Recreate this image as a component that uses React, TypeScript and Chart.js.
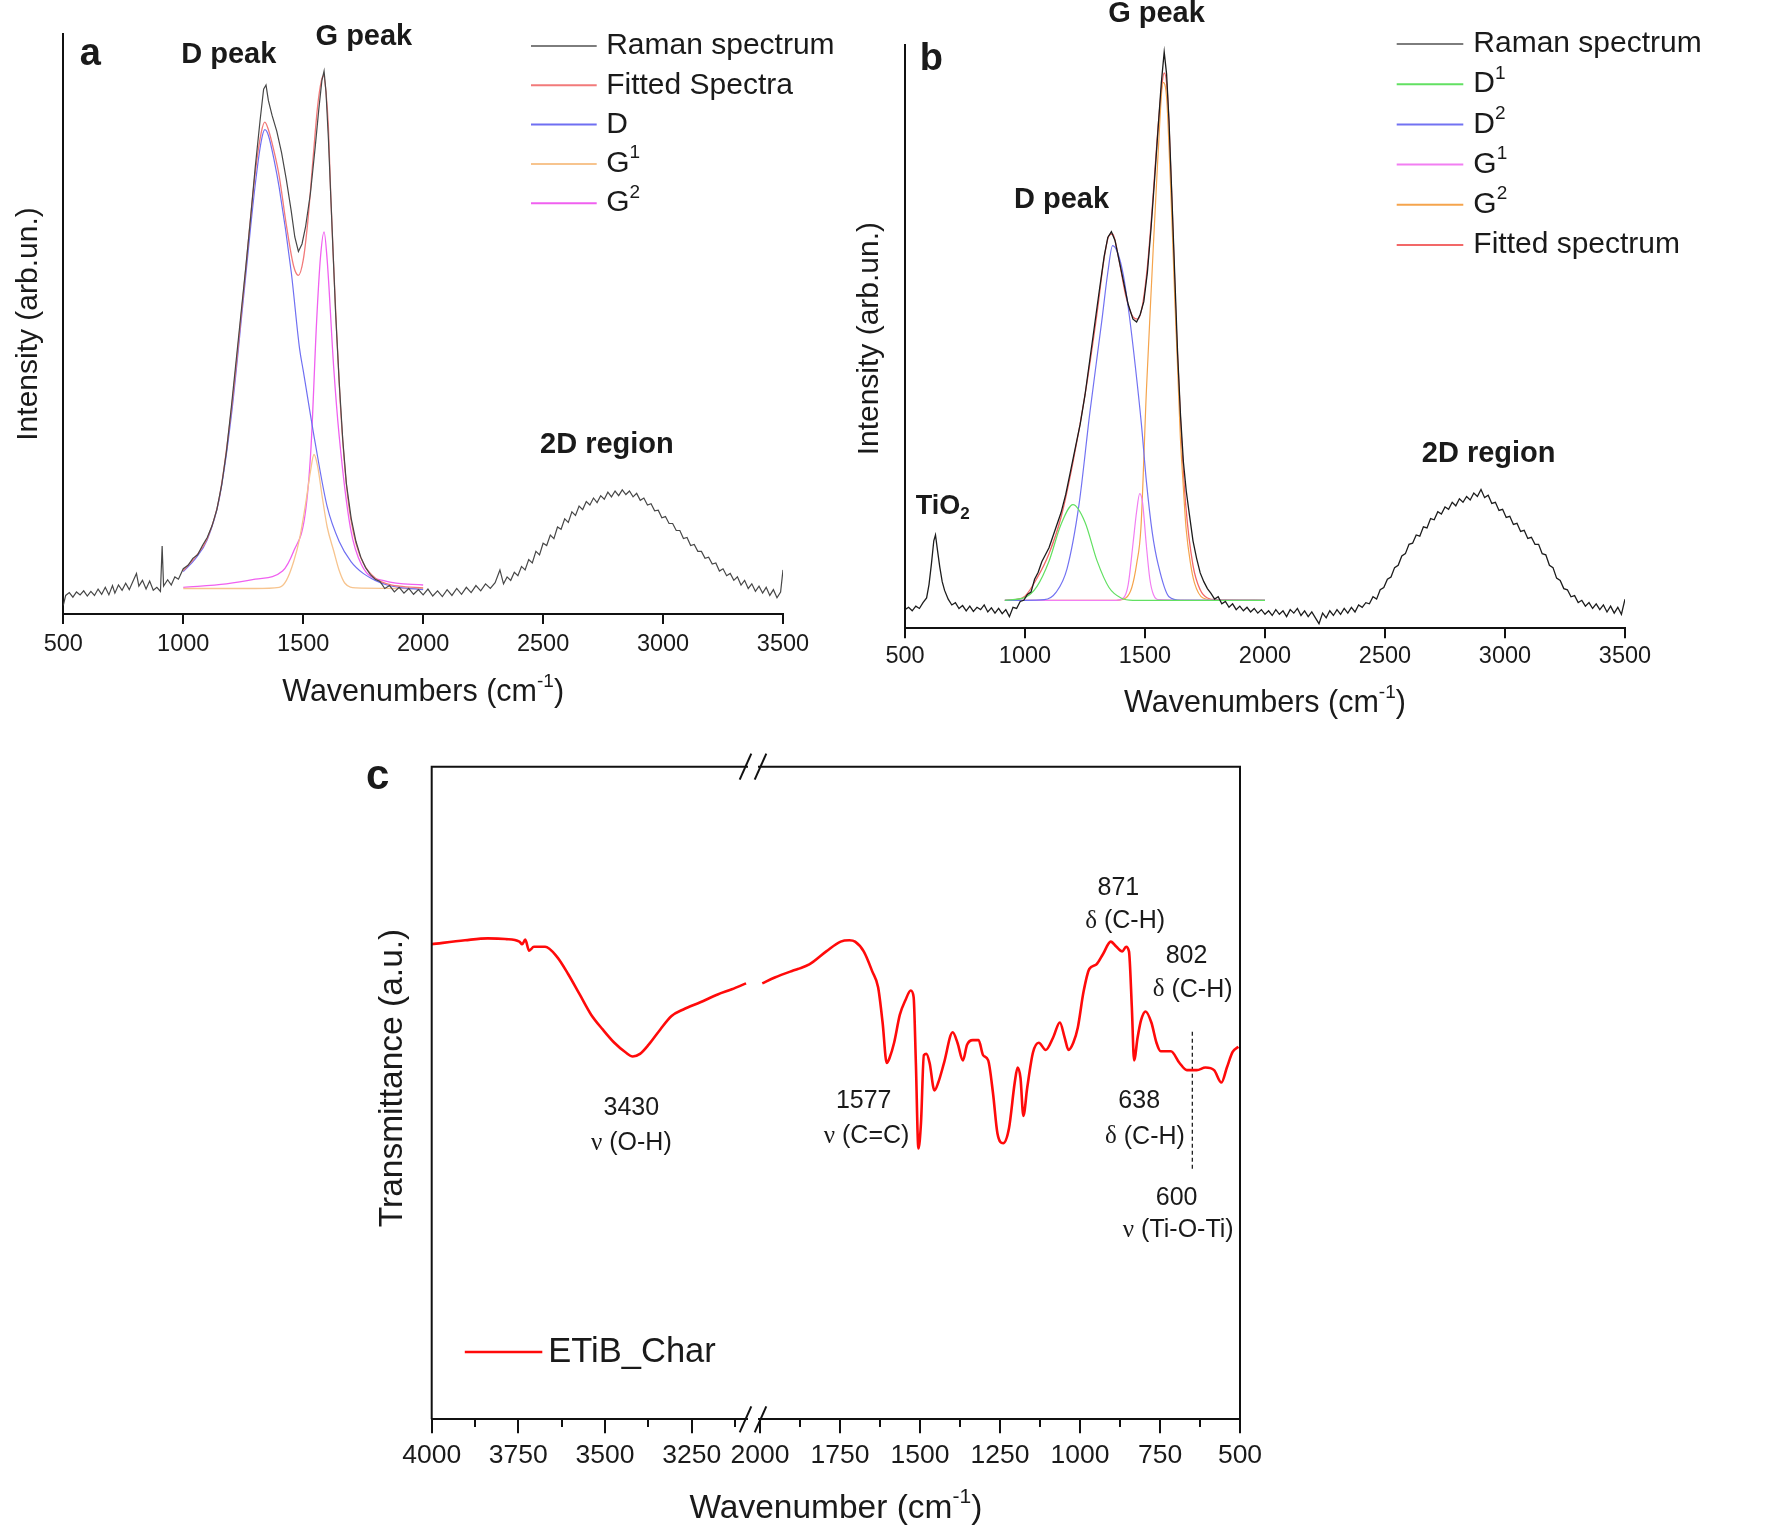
import React, { useEffect, useRef } from "react";
import { Chart, registerables } from "chart.js";

Chart.register(...registerables);

const SANS = '"Liberation Sans", Arial, Helvetica, sans-serif';
const SERIF = '"Liberation Serif", "Times New Roman", serif';
const INK = "#1a1a1a";
const AXIS = "#111111";

// ---------------- Panel a (Raman) ----------------
const ramanA_wn = [
  500, 510, 525, 540, 555, 570, 585, 600, 615, 630,
  645, 660, 675, 690, 705, 715, 730, 745, 760, 775,
  790, 805, 815, 830, 845, 860, 875, 890, 905, 912,
  918, 935, 950, 965, 980, 1000, 1020, 1040, 1060, 1080,
  1100, 1120, 1140, 1160, 1180, 1200, 1220, 1240, 1260, 1280,
  1300, 1320, 1335, 1345, 1355, 1370, 1390, 1410, 1430, 1450,
  1465, 1480, 1495, 1510, 1530, 1550, 1565, 1578, 1587, 1595,
  1605, 1615, 1625, 1635, 1650, 1665, 1680, 1700, 1720, 1740,
  1760, 1780, 1800, 1820, 1840, 1860, 1880, 1900, 1920, 1940,
  1960, 1980, 2000, 2020, 2040, 2060, 2080, 2100, 2120, 2140,
  2160, 2180, 2200, 2220, 2240, 2260, 2280, 2300, 2320, 2335,
  2350, 2365, 2380, 2395, 2410, 2425, 2440, 2455, 2470, 2485,
  2500, 2515, 2530, 2545, 2560, 2575, 2590, 2605, 2620, 2635,
  2650, 2665, 2680, 2695, 2710, 2725, 2740, 2755, 2770, 2785,
  2800, 2815, 2830, 2845, 2860, 2875, 2890, 2905, 2920, 2935,
  2950, 2965, 2980, 2995, 3010, 3025, 3040, 3055, 3070, 3085,
  3100, 3115, 3130, 3145, 3160, 3175, 3190, 3205, 3220, 3235,
  3250, 3265, 3280, 3295, 3310, 3325, 3340, 3355, 3370, 3385,
  3400, 3415, 3430, 3445, 3460, 3475, 3490, 3500,
];
const ramanA_int = [
  1.5, 3.2, 3.7, 2.9, 3.8, 3.3, 4.0, 3.1, 3.9, 3.2,
  4.3, 3.4, 4.6, 3.3, 4.9, 3.6, 5.0, 4.1, 5.3, 4.2,
  5.6, 7.0, 4.8, 5.8, 4.3, 5.7, 4.1, 4.6, 3.9, 11.7,
  4.8, 5.9, 5.0, 6.4, 6.0, 7.8, 8.4, 9.6, 10.2, 11.8,
  13.2, 15.2, 18.0, 22.2, 28.0, 35.5, 43.5, 51.5, 59.5, 68.0,
  77.0, 85.0, 90.5, 91.2, 88.5, 86.0, 83.2, 79.5, 74.8, 69.5,
  65.0, 62.5, 63.8, 66.8, 72.5, 80.5, 87.0, 92.0, 93.6, 90.0,
  82.0, 72.0, 62.0, 52.0, 40.0, 30.0, 22.5, 16.5, 12.5, 9.8,
  8.0, 6.8, 6.0, 5.6, 4.4, 4.9, 3.8, 4.6, 3.6, 4.4,
  3.4, 4.2, 3.3, 4.3, 3.1, 4.0, 3.0, 4.2, 3.2, 4.4,
  3.4, 4.6, 3.7, 4.9, 4.0, 5.2, 4.4, 5.4, 7.6, 5.2,
  6.4, 5.8, 7.2, 6.6, 8.2, 7.6, 9.4, 8.8, 10.8, 10.2,
  12.2, 11.8, 13.6, 13.0, 15.0, 14.6, 16.4, 15.8, 17.6, 17.0,
  18.6, 18.0, 19.4, 18.8, 20.0, 19.2, 20.4, 19.8, 21.0, 20.2,
  21.2, 20.4, 21.4, 20.6, 21.2, 20.2, 20.8, 19.6, 20.0, 18.8,
  19.0, 17.8, 17.9, 16.6, 16.8, 15.6, 15.6, 14.4, 14.4, 13.0,
  13.2, 11.8, 12.0, 10.8, 10.8, 9.6, 9.8, 8.6, 8.8, 7.4,
  7.8, 6.6, 7.0, 5.8, 6.4, 5.0, 5.8, 4.4, 5.2, 3.9,
  4.8, 3.6, 4.6, 3.2, 4.2, 2.8, 3.8, 7.6,
];
const fitA_wn = [1000, 1050, 1100, 1150, 1200, 1250, 1300, 1325, 1340, 1355, 1380, 1400, 1430, 1460, 1480, 1500, 1520, 1540, 1560, 1575, 1585, 1595, 1605, 1615, 1627, 1640, 1655, 1670, 1686, 1700, 1721, 1750, 1800, 1850, 1900, 2000];
const fitA_int = [7.5, 9.8, 13.0, 20.0, 35.0, 55.0, 76.0, 83.0, 84.8, 83.5, 79.5, 75.5, 67.0, 60.0, 58.4, 61.0, 68.0, 78.0, 87.5, 91.8, 92.8, 90.0, 84.0, 72.0, 60.0, 48.0, 36.0, 27.0, 20.0, 16.0, 12.0, 8.8, 6.2, 5.2, 4.8, 4.5];
const dA_wn = [1000, 1050, 1100, 1150, 1200, 1250, 1300, 1325, 1340, 1355, 1380, 1400, 1450, 1485, 1500, 1550, 1600, 1650, 1700, 1750, 1800, 1850, 1900, 2000];
const dA_int = [7.3, 9.5, 12.8, 19.8, 34.0, 54.0, 74.0, 81.5, 83.5, 82.5, 78.0, 73.5, 59.0, 45.7, 42.0, 29.5, 18.5, 12.5, 9.0, 7.0, 5.8, 5.0, 4.6, 4.2];
const g1A_wn = [1000, 1300, 1400, 1430, 1460, 1485, 1510, 1530, 1545, 1560, 1580, 1600, 1627, 1650, 1674, 1720, 2000];
const g1A_int = [4.4, 4.4, 4.6, 5.8, 9.0, 13.0, 19.0, 24.5, 27.5, 25.5, 20.0, 15.0, 10.9, 7.5, 5.3, 4.5, 4.4];
const g2A_wn = [1000, 1180, 1300, 1414, 1461, 1508, 1532, 1556, 1572, 1587, 1600, 1627, 1650, 1697, 1744, 1840, 2000];
const g2A_int = [4.6, 5.2, 6.0, 7.4, 10.9, 17.2, 28.3, 50.5, 61.5, 65.9, 61.0, 42.6, 30.7, 14.8, 8.4, 5.7, 5.0];

// ---------------- Panel b (Raman) ----------------
const ramanB_wn = [
  500, 515, 530, 545, 560, 575, 590, 600, 610, 620,
  627, 635, 645, 655, 665, 680, 695, 710, 725, 740,
  755, 770, 785, 800, 815, 830, 845, 860, 875, 890,
  905, 920, 935, 950, 965, 980, 995, 1010, 1025, 1040,
  1055, 1070, 1085, 1100, 1115, 1130, 1150, 1170, 1190, 1210,
  1230, 1250, 1270, 1290, 1310, 1330, 1345, 1360, 1375, 1390,
  1410, 1430, 1450, 1465, 1480, 1495, 1510, 1525, 1540, 1555,
  1568, 1580, 1590, 1600, 1612, 1624, 1636, 1648, 1660, 1672,
  1685, 1700, 1715, 1730, 1745, 1760, 1775, 1790, 1805, 1820,
  1835, 1850, 1865, 1880, 1895, 1910, 1925, 1940, 1955, 1970,
  1985, 2000, 2015, 2030, 2045, 2060, 2075, 2090, 2105, 2120,
  2135, 2150, 2165, 2180, 2195, 2210, 2225, 2240, 2255, 2270,
  2285, 2300, 2315, 2330, 2345, 2360, 2375, 2390, 2405, 2420,
  2435, 2450, 2465, 2480, 2495, 2510, 2525, 2540, 2555, 2570,
  2585, 2600, 2615, 2630, 2645, 2660, 2675, 2690, 2705, 2720,
  2735, 2750, 2765, 2780, 2795, 2810, 2825, 2840, 2855, 2870,
  2885, 2900, 2915, 2930, 2945, 2960, 2975, 2990, 3005, 3020,
  3035, 3050, 3065, 3080, 3095, 3110, 3125, 3140, 3155, 3170,
  3185, 3200, 3215, 3230, 3245, 3260, 3275, 3290, 3305, 3320,
  3335, 3350, 3365, 3380, 3395, 3410, 3425, 3440, 3455, 3470,
  3485, 3500,
];
const ramanB_int = [
  3.2, 3.6, 3.0, 3.8, 3.4, 4.4, 5.2, 7.5, 11.0, 15.0,
  16.0, 13.5, 10.5, 8.0, 6.5, 5.0, 4.0, 4.4, 3.4, 3.9,
  3.0, 3.8, 2.9, 3.6, 3.2, 4.0, 2.8, 3.5, 2.6, 3.4,
  2.5, 3.2, 2.0, 3.6, 3.4, 4.6, 4.8, 5.8, 6.2, 8.4,
  9.6, 11.4, 12.6, 13.8, 15.6, 17.4, 19.8, 23.0, 27.0, 31.0,
  35.0, 40.0, 46.0, 52.0, 58.0, 63.8, 67.0, 68.0, 66.5, 63.5,
  59.5, 55.5, 53.0, 52.5, 53.8, 56.0, 61.0, 68.5, 77.0, 86.0,
  93.5, 98.8, 95.0, 87.0, 74.0, 60.5, 47.0, 36.5, 28.5, 23.5,
  19.5, 15.0, 12.0, 9.5, 8.0, 6.8, 6.0, 5.0, 5.4, 4.2,
  4.6, 3.6, 4.2, 3.2, 3.8, 3.0, 3.6, 2.8, 3.4, 2.6,
  3.2, 2.4, 3.0, 2.2, 3.2, 2.4, 3.0, 2.0, 3.2, 2.6,
  3.4, 2.2, 3.0, 2.0, 2.8, 1.8, 0.8, 2.6, 1.8, 3.0,
  2.2, 3.2, 2.4, 3.4, 2.6, 3.6, 2.8, 4.0, 3.6, 4.4,
  4.2, 5.4, 5.0, 6.6, 7.0, 8.4, 8.8, 10.4, 10.8, 12.4,
  12.8, 14.4, 14.6, 16.0, 15.8, 17.4, 17.2, 18.8, 18.6, 20.0,
  19.6, 20.8, 20.4, 21.6, 21.0, 22.2, 21.6, 22.6, 22.0, 23.2,
  22.6, 23.8, 22.4, 22.8, 21.4, 21.6, 20.2, 20.4, 19.0, 19.2,
  17.8, 18.0, 16.6, 16.8, 15.4, 15.6, 14.4, 14.4, 12.8, 12.6,
  10.8, 10.4, 8.6, 8.2, 6.8, 6.6, 5.4, 5.6, 4.4, 4.8,
  3.8, 4.4, 3.4, 4.2, 3.2, 4.0, 2.8, 3.8, 2.6, 3.6,
  2.4, 5.0,
];
const d1B_wn = [916, 1000, 1050, 1100, 1150, 1200, 1250, 1300, 1350, 1400, 1450, 2000];
const d1B_int = [4.8, 5.3, 7.2, 11.5, 17.8, 21.2, 18.2, 11.6, 7.0, 5.2, 4.8, 4.8];
const d2B_wn = [916, 1000, 1080, 1130, 1175, 1225, 1270, 1320, 1345, 1365, 1385, 1410, 1435, 1460, 1485, 1506, 1530, 1555, 1600, 1650, 2000];
const d2B_int = [4.8, 4.8, 4.9, 6.2, 10.2, 21.2, 36.9, 52.7, 61.0, 65.6, 64.5, 60.5, 53.5, 44.8, 35.0, 25.1, 16.5, 10.9, 5.4, 4.8, 4.8];
const g1B_wn = [916, 1380, 1410, 1430, 1450, 1465, 1478, 1490, 1505, 1520, 1535, 1560, 2000];
const g1B_int = [4.8, 4.8, 5.2, 7.5, 14.5, 20.0, 23.1, 21.5, 14.5, 8.5, 5.8, 4.9, 4.8];
const g2B_wn = [916, 1380, 1420, 1445, 1465, 1483, 1506, 1529, 1553, 1576, 1590, 1600, 1612, 1624, 1636, 1647, 1660, 1671, 1690, 1706, 1742, 1800, 2000];
const g2B_int = [4.8, 4.8, 5.2, 7.0, 11.0, 17.2, 40.9, 60.6, 80.2, 93.6, 91.0, 82.6, 70.0, 56.6, 44.5, 33.0, 24.0, 17.2, 11.0, 7.8, 5.2, 4.8, 4.8];
const fitB_wn = [916, 960, 1000, 1050, 1100, 1150, 1200, 1250, 1300, 1330, 1350, 1365, 1390, 1420, 1450, 1470, 1490, 1510, 1530, 1550, 1570, 1580, 1590, 1600, 1615, 1630, 1650, 1670, 1700, 1730, 1760, 1800, 2000];
const fitB_int = [4.8, 4.9, 5.5, 8.6, 12.8, 19.0, 28.5, 40.0, 54.0, 63.5, 67.3, 67.6, 63.5, 57.0, 53.4, 53.0, 55.5, 62.0, 72.0, 83.5, 93.0, 95.2, 93.5, 86.5, 70.0, 52.0, 34.0, 21.0, 10.8, 6.6, 5.2, 4.9, 4.8];

const RAMAN_TICKS = [500, 1000, 1500, 2000, 2500, 3000, 3500];

// ---------------- Panel c (FTIR) ----------------
const ftirHigh_wn = [4000, 3904, 3838, 3788, 3747, 3739, 3730, 3719, 3705, 3673, 3639, 3606, 3573, 3540, 3506, 3473, 3440, 3420, 3399, 3374, 3341, 3308, 3274, 3225, 3175, 3134, 3093];
const ftirHigh_T = [72.8, 73.4, 73.7, 73.6, 73.2, 72.8, 73.5, 71.8, 72.4, 72.4, 70.9, 68.2, 65.1, 62.0, 59.7, 57.7, 56.2, 55.6, 56.0, 57.4, 59.7, 61.8, 62.8, 63.9, 65.1, 65.9, 66.8];
const ftirLow_wn = [
  1993, 1954, 1900, 1882, 1846, 1793, 1748, 1721, 1703, 1676,
  1649, 1631, 1617, 1604, 1595, 1581, 1563, 1545, 1529, 1520,
  1513, 1505, 1497, 1488, 1480, 1470, 1455, 1443, 1425, 1398,
  1383, 1366, 1353, 1335, 1317, 1303, 1287, 1272, 1258, 1240,
  1222, 1204, 1195, 1186, 1177, 1165, 1147, 1129, 1107, 1084,
  1063, 1048, 1036, 1021, 1007, 989, 971, 949, 928, 904,
  886, 868, 856, 847, 838, 831, 820, 809, 795, 777,
  761, 748, 716, 689, 666, 635, 608, 581, 558, 541,
  523, 505,
];
const ftirLow_T = [
  66.8, 67.7, 68.7, 69.0, 69.7, 71.7, 73.2, 73.4, 73.2, 71.7,
  68.6, 66.2, 60.8, 54.6, 55.4, 57.7, 62.0, 64.3, 65.7, 64.7,
  54.6, 41.5, 45.4, 55.8, 56.0, 54.6, 50.4, 51.6, 54.6, 59.3,
  57.7, 55.0, 57.4, 58.1, 58.1, 55.8, 55.0, 50.0, 43.8, 42.3,
  44.6, 51.6, 53.9, 52.3, 46.5, 50.8, 56.2, 57.7, 56.6, 58.5,
  60.8, 58.5, 56.6, 57.7, 60.0, 65.5, 69.0, 69.7, 71.3, 73.2,
  72.4, 71.7, 72.4, 71.7, 63.1, 55.0, 58.5, 61.2, 62.5, 60.8,
  57.7, 56.4, 56.4, 54.6, 53.5, 53.5, 53.9, 53.5, 51.6, 53.9,
  56.3, 57.1,
];
const marker_wn = [649, 649];
const marker_T = [59.4, 38.0];

const C_HIGH_RANGE = [3073, 4000];
const C_LOW_RANGE = [500, 2022];
const C_HIGH_MAJOR = [4000, 3750, 3500, 3250];
const C_HIGH_MINOR = [3875, 3625, 3375, 3125];
const C_LOW_MAJOR = [2000, 1750, 1500, 1250, 1000, 750, 500];
const C_LOW_MINOR = [1875, 1625, 1375, 1125, 875, 625];

// ---------------- helpers ----------------
type Part = { t: string; sup?: boolean; sub?: boolean; serif?: boolean };
type Label = { parts: Part[]; x: number; y: number; axis?: string; size: number; bold?: boolean };
type LegendItem = { ds: number; parts: Part[]; color?: string };
type Decor = {
  labels: Label[];
  legend?: { dx: number; dy: number; lineLen: number; gap: number; spacing: number; size: number; lineWidth: number; items: LegendItem[] };
  xTitle: { parts: Part[]; dy: number; size: number };
  yTitle: { parts: Part[]; dx: number; dy: number; size: number };
  frameBreak?: { left: string; right: string };
};

const pts = (xs: number[], ys: number[]) => xs.map((x, i) => ({ x, y: ys[i] }));

function drawParts(ctx: CanvasRenderingContext2D, parts: Part[], x: number, y: number, size: number, bold: boolean, align: "center" | "left") {
  const fontOf = (p: Part) =>
    `${bold ? "bold " : ""}${p.sup || p.sub ? Math.round(size * 0.62) : size}px ${p.serif ? SERIF : SANS}`;
  const widths = parts.map((p) => {
    ctx.font = fontOf(p);
    return ctx.measureText(p.t).width;
  });
  const total = widths.reduce((s, w) => s + w, 0);
  let cx = align === "center" ? x - total / 2 : x;
  ctx.textAlign = "left";
  ctx.textBaseline = "middle";
  ctx.fillStyle = INK;
  parts.forEach((p, i) => {
    ctx.font = fontOf(p);
    const dy = p.sup ? -size * 0.36 : p.sub ? size * 0.28 : 0;
    ctx.fillText(p.t, cx, y + dy);
    cx += widths[i];
  });
}

function decorPlugin(d: Decor) {
  return {
    id: "decor",
    afterDraw(chart: any) {
      const ctx: CanvasRenderingContext2D = chart.ctx;
      const a = chart.chartArea;
      ctx.save();
      if (d.frameBreak) {
        ctx.strokeStyle = AXIS;
        ctx.lineWidth = 2;
        ctx.beginPath();
        ctx.moveTo(a.left, a.bottom);
        ctx.lineTo(a.left, a.top);
        ctx.lineTo(a.right, a.top);
        ctx.lineTo(a.right, a.bottom);
        ctx.stroke();
        const bx = chart.scales[d.frameBreak.left].right;
        [a.top, a.bottom].forEach((yy: number) => {
          ctx.fillStyle = "#ffffff";
          ctx.fillRect(bx - 5, yy - 3, 10, 6);
          ctx.strokeStyle = AXIS;
          ctx.lineWidth = 2;
          [bx - 7.5, bx + 7.5].forEach((sx) => {
            ctx.beginPath();
            ctx.moveTo(sx - 5.8, yy + 13);
            ctx.lineTo(sx + 5.8, yy - 13);
            ctx.stroke();
          });
        });
      }
      d.labels.forEach((l) => {
        const xs = chart.scales[l.axis || "x"];
        const ys = chart.scales.y;
        drawParts(ctx, l.parts, xs.getPixelForValue(l.x), ys.getPixelForValue(l.y), l.size, !!l.bold, "center");
      });
      if (d.legend) {
        const L = d.legend;
        L.items.forEach((it, i) => {
          const y = a.top + L.dy + i * L.spacing;
          const x0 = a.left + L.dx;
          ctx.strokeStyle = it.color || chart.data.datasets[it.ds].borderColor;
          ctx.lineWidth = L.lineWidth;
          ctx.beginPath();
          ctx.moveTo(x0, y);
          ctx.lineTo(x0 + L.lineLen, y);
          ctx.stroke();
          drawParts(ctx, it.parts, x0 + L.lineLen + L.gap, y, L.size, false, "left");
        });
      }
      drawParts(ctx, d.xTitle.parts, (a.left + a.right) / 2, a.bottom + d.xTitle.dy, d.xTitle.size, false, "center");
      ctx.save();
      ctx.translate(a.left + d.yTitle.dx, (a.top + a.bottom) / 2 + d.yTitle.dy);
      ctx.rotate(-Math.PI / 2);
      drawParts(ctx, d.yTitle.parts, 0, 0, d.yTitle.size, false, "center");
      ctx.restore();
      ctx.restore();
    },
  };
}

const line = (label: string, xs: number[], ys: number[], color: string, width: number, smooth: boolean) => ({
  label,
  data: pts(xs, ys),
  borderColor: color,
  backgroundColor: color,
  borderWidth: width,
  pointRadius: 0,
  fill: false,
  tension: 0,
  cubicInterpolationMode: smooth ? "monotone" : "default",
});

function ramanOptions(o: { padTop: number; padRight: number; yWidth: number; xHeight: number; tickPad: number }) {
  return {
    responsive: false,
    animation: false,
    devicePixelRatio: 1,
    events: [],
    layout: { padding: { left: 0, top: o.padTop, right: o.padRight, bottom: 0 } },
    plugins: { legend: { display: false }, tooltip: { enabled: false } },
    scales: {
      x: {
        type: "linear",
        axis: "x",
        position: "bottom",
        min: 500,
        max: 3500,
        afterFit: (s: any) => { s.height = o.xHeight; },
        afterBuildTicks: (s: any) => { s.ticks = RAMAN_TICKS.map((v) => ({ value: v })); },
        ticks: {
          autoSkip: false, maxRotation: 0, minRotation: 0, padding: o.tickPad, color: INK,
          font: { family: SANS, size: 23.5 },
          callback: (v: any) => String(v),
        },
        grid: { display: true, drawOnChartArea: false, drawTicks: true, tickLength: 10, color: AXIS, lineWidth: 2 },
        border: { display: true, color: AXIS, width: 2 },
      },
      y: {
        type: "linear",
        axis: "y",
        position: "left",
        min: 0,
        max: 100,
        afterFit: (s: any) => { s.width = o.yWidth; },
        ticks: { display: false },
        grid: { display: false },
        border: { display: true, color: AXIS, width: 2 },
      },
    },
  };
}

const wavenumbersTitle: Part[] = [{ t: "Wavenumbers (cm" }, { t: "-1", sup: true }, { t: ")" }];
const intensityTitle: Part[] = [{ t: "Intensity (arb.un.)" }];

function makeA() {
  return {
    type: "line",
    data: {
      datasets: [
        line("Raman spectrum", ramanA_wn, ramanA_int, "#474747", 1.2, false),
        line("Fitted Spectra", fitA_wn, fitA_int, "#f27a7a", 1.3, true),
        line("D", dA_wn, dA_int, "#6f6ff2", 1.2, true),
        line("G1", g1A_wn, g1A_int, "#f7c48e", 1.3, true),
        line("G2", g2A_wn, g2A_int, "#f060f0", 1.3, true),
      ],
    },
    options: ramanOptions({ padTop: 34, padRight: 57, yWidth: 63.3, xHeight: 116, tickPad: 6 }),
    plugins: [
      decorPlugin({
        labels: [
          { parts: [{ t: "a" }], x: 613, y: 96.4, size: 38, bold: true },
          { parts: [{ t: "D peak" }], x: 1190, y: 96.4, size: 29, bold: true },
          { parts: [{ t: "G peak" }], x: 1753, y: 99.5, size: 29, bold: true },
          { parts: [{ t: "2D region" }], x: 2766, y: 29.1, size: 29, bold: true },
        ],
        legend: {
          dx: 467.7, dy: 12, lineLen: 65.7, gap: 9.5, spacing: 39.3, size: 30, lineWidth: 2,
          items: [
            { ds: 0, parts: [{ t: "Raman spectrum" }], color: "#7d7d7d" },
            { ds: 1, parts: [{ t: "Fitted Spectra" }] },
            { ds: 2, parts: [{ t: "D" }] },
            { ds: 3, parts: [{ t: "G" }, { t: "1", sup: true }] },
            { ds: 4, parts: [{ t: "G" }, { t: "2", sup: true }] },
          ],
        },
        xTitle: { parts: wavenumbersTitle, dy: 79, size: 30.5 },
        yTitle: { parts: intensityTitle, dx: -35, dy: 0, size: 30 },
      }),
    ],
  };
}

function makeB() {
  return {
    type: "line",
    data: {
      datasets: [
        line("Raman spectrum", ramanB_wn, ramanB_int, "#1c1c1c", 1.3, false),
        line("D1", d1B_wn, d1B_int, "#62e062", 1.2, true),
        line("D2", d2B_wn, d2B_int, "#7272f2", 1.2, true),
        line("G1", g1B_wn, g1B_int, "#f27ef2", 1.2, true),
        line("G2", g2B_wn, g2B_int, "#f5a44c", 1.2, true),
        line("Fitted spectrum", fitB_wn, fitB_int, "#f26868", 1.3, true),
      ],
    },
    options: ramanOptions({ padTop: 45, padRight: 148, yWidth: 65, xHeight: 101.7, tickPad: 4 }),
    plugins: [
      decorPlugin({
        labels: [
          { parts: [{ t: "b" }], x: 610, y: 97.5, size: 38, bold: true },
          { parts: [{ t: "G peak" }], x: 1548, y: 105.4, size: 29, bold: true },
          { parts: [{ t: "D peak" }], x: 1152, y: 73.5, size: 29, bold: true },
          { parts: [{ t: "TiO" }, { t: "2", sub: true }], x: 657, y: 20.8, size: 27, bold: true },
          { parts: [{ t: "2D region" }], x: 2932, y: 29.8, size: 29, bold: true },
        ],
        legend: {
          dx: 491.7, dy: -1, lineLen: 66.6, gap: 10, spacing: 40.2, size: 30, lineWidth: 2,
          items: [
            { ds: 0, parts: [{ t: "Raman spectrum" }], color: "#7d7d7d" },
            { ds: 1, parts: [{ t: "D" }, { t: "1", sup: true }] },
            { ds: 2, parts: [{ t: "D" }, { t: "2", sup: true }] },
            { ds: 3, parts: [{ t: "G" }, { t: "1", sup: true }] },
            { ds: 4, parts: [{ t: "G" }, { t: "2", sup: true }] },
            { ds: 5, parts: [{ t: "Fitted spectrum" }] },
          ],
        },
        xTitle: { parts: wavenumbersTitle, dy: 75.7, size: 30.5 },
        yTitle: { parts: intensityTitle, dx: -35, dy: 2, size: 30 },
      }),
    ],
  };
}

function ftirAxis(range: number[], major: number[], minor: number[], weight: number) {
  const all = [...major, ...minor].sort((p, q) => q - p);
  return {
    type: "linear",
    axis: "x",
    position: "bottom",
    stack: "wn",
    stackWeight: weight,
    reverse: true,
    min: range[0],
    max: range[1],
    afterFit: (s: any) => { s.height = 111.7; },
    afterBuildTicks: (s: any) => { s.ticks = all.map((v) => ({ value: v })); },
    ticks: {
      autoSkip: false, maxRotation: 0, minRotation: 0, padding: 6, color: INK,
      font: { family: SANS, size: 26.5 },
      callback: (v: any) => (major.includes(Number(v)) ? String(v) : ""),
    },
    grid: {
      display: true, drawOnChartArea: false, drawTicks: true, tickLength: 14, color: AXIS, lineWidth: 2,
      tickBorderDash: (c: any) => (c.tick && major.includes(c.tick.value) ? [] : [7, 40]),
    },
    border: { display: true, color: AXIS, width: 2 },
  };
}

function makeC() {
  const sym = (g: string, rest: string): Part[] => [{ t: g, serif: true }, { t: rest }];
  return {
    type: "line",
    data: {
      datasets: [
        { ...line("ETiB_Char", ftirHigh_wn, ftirHigh_T, "#ff0a0a", 2.6, true), xAxisID: "xL", yAxisID: "y" },
        { ...line("ETiB_Char (low)", ftirLow_wn, ftirLow_T, "#ff0a0a", 2.6, true), xAxisID: "xR", yAxisID: "y" },
        { ...line("marker", marker_wn, marker_T, "#222222", 1.3, false), borderDash: [4, 3], xAxisID: "xR", yAxisID: "y" },
      ],
    },
    options: {
      responsive: false,
      animation: false,
      devicePixelRatio: 1,
      events: [],
      layout: { padding: { left: 101.7, top: 26.7, right: 90, bottom: 0 } },
      plugins: { legend: { display: false }, tooltip: { enabled: false } },
      scales: {
        xL: ftirAxis(C_HIGH_RANGE, C_HIGH_MAJOR, C_HIGH_MINOR, 321.3),
        xR: ftirAxis(C_LOW_RANGE, C_LOW_MAJOR, C_LOW_MINOR, 487),
        y: { type: "linear", axis: "y", display: false, min: 0, max: 100 },
      },
    },
    plugins: [
      decorPlugin({
        frameBreak: { left: "xL", right: "xR" },
        labels: [
          { parts: [{ t: "c" }], x: 4156, y: 98.3, axis: "xL", size: 42, bold: true },
          { parts: [{ t: "3430" }], x: 3424, y: 47.7, axis: "xL", size: 25 },
          { parts: sym("ν", " (O-H)"), x: 3424, y: 42.3, axis: "xL", size: 25 },
          { parts: [{ t: "1577" }], x: 1676, y: 48.8, axis: "xR", size: 25 },
          { parts: sym("ν", " (C=C)"), x: 1667, y: 43.4, axis: "xR", size: 25 },
          { parts: [{ t: "871" }], x: 880, y: 81.4, axis: "xR", size: 25 },
          { parts: sym("δ", " (C-H)"), x: 859, y: 76.3, axis: "xR", size: 25 },
          { parts: [{ t: "802" }], x: 667, y: 70.9, axis: "xR", size: 25 },
          { parts: sym("δ", " (C-H)"), x: 648, y: 65.8, axis: "xR", size: 25 },
          { parts: [{ t: "638" }], x: 815, y: 48.7, axis: "xR", size: 25 },
          { parts: sym("δ", " (C-H)"), x: 797, y: 43.3, axis: "xR", size: 25 },
          { parts: [{ t: "600" }], x: 698, y: 33.9, axis: "xR", size: 25 },
          { parts: sym("ν", " (Ti-O-Ti)"), x: 693, y: 29.0, axis: "xR", size: 25 },
        ],
        legend: {
          dx: 33.1, dy: 585.3, lineLen: 77.5, gap: 6, spacing: 40, size: 34.5, lineWidth: 2.6,
          items: [{ ds: 0, parts: [{ t: "ETiB_Char" }] }],
        },
        xTitle: { parts: [{ t: "Wavenumber (cm" }, { t: "-1", sup: true }, { t: ")" }], dy: 89.7, size: 33.5 },
        yTitle: { parts: [{ t: "Transmittance (a.u.)" }], dx: -38.7, dy: -15, size: 33.5 },
      }),
    ],
  };
}

function ChartBox(props: { left: number; top: number; width: number; height: number; make: () => any }) {
  const ref = useRef<HTMLCanvasElement | null>(null);
  useEffect(() => {
    if (!ref.current) return;
    const chart = new Chart(ref.current, props.make());
    return () => chart.destroy();
  }, []);
  return (
    <canvas
      ref={ref}
      width={props.width}
      height={props.height}
      style={{ position: "absolute", left: props.left, top: props.top, width: props.width, height: props.height, display: "block" }}
    />
  );
}

export default function App() {
  return (
    <div style={{ position: "absolute", left: 0, top: 0, width: 1773, height: 1531, background: "#ffffff", overflow: "hidden" }}>
      <ChartBox left={0} top={0} width={840} height={730} make={makeA} />
      <ChartBox left={840} top={0} width={933} height={730} make={makeB} />
      <ChartBox left={330} top={740} width={1000} height={791} make={makeC} />
    </div>
  );
}
